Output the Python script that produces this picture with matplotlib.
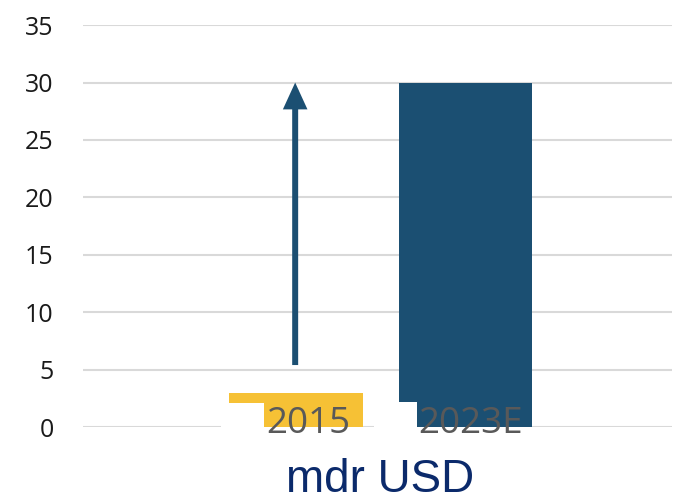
import matplotlib.pyplot as plt
from matplotlib.patches import Rectangle

# Data
years = ['2015', '2023E']
values = [3, 30]
arrow_from = 5.4
arrow_to = 30
bar_colors = ['#F6C135', '#1B4F72']
yticks = [0, 5, 10, 15, 20, 25, 30, 35]

fig = plt.figure(figsize=(6.74, 5.03), dpi=100)
ax = fig.add_axes([0.123, 0.151, 0.874, 0.799])

x = list(range(len(years)))
ax.bar(x, values, width=0.79, color=bar_colors, zorder=2)

ax.set_xlim(-1.26, 2.22)
ax.set_ylim(0, 35)
ax.set_yticks(yticks)
ax.set_yticklabels([str(t) for t in yticks], fontsize=18, family='Open Sans', color='#1a1a1a')
ax.tick_params(axis='y', length=0, pad=21)
ax.set_xticks([])
ax.yaxis.grid(True, color='#D9D9D9', lw=1.5, zorder=0)
ax.set_axisbelow(True)
for s in ax.spines.values():
    s.set_visible(False)

# white label boxes overlapping the bars
for x0, x1, top in [(-0.444, -0.189, 2.09), (0.46, 0.716, 2.18)]:
    ax.add_patch(Rectangle((x0, -1.0), x1 - x0, top + 1.0, facecolor='white',
                           edgecolor='none', zorder=3, clip_on=False))

# category labels
for xi, off, lab in zip(x, [0.07, 0.03], years):
    ax.text(xi + off, 0.25, lab, ha='center', va='center', fontsize=26.5,
            family='Open Sans', color='#595959', zorder=4, clip_on=False)

# growth arrow
ax.annotate('', xy=(-0.006, arrow_to), xytext=(-0.006, arrow_from),
            arrowprops=dict(arrowstyle='-|>,head_length=12,head_width=5.5',
                            mutation_scale=1, lw=4.3, color='#1B4F72',
                            capstyle='butt', joinstyle='miter',
                            shrinkA=0, shrinkB=0), zorder=5)

fig.text(0.564, 0.045, 'mdr USD', ha='center', va='center', fontsize=33,
         family='Liberation Sans', color='#0B2A6B')

plt.savefig('out.png', dpi=100)
